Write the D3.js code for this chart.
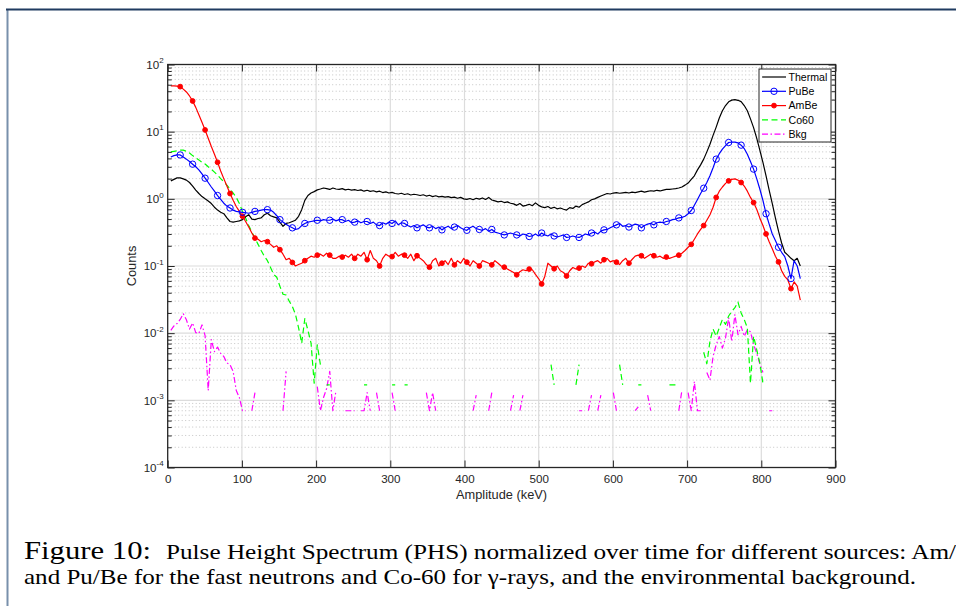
<!DOCTYPE html>
<html>
<head>
<meta charset="utf-8">
<script src="https://cdn.jsdelivr.net/npm/d3@7"></script>
<style>
    body { margin: 0; background: #fff; }
    svg { display: block; }
</style>
</head>
<body>
<div id="chart"></div>
<script>
// energy channels, 4.2 keV wide
const amplitude = d3.range(1, 204).map(i => +(i * 4.2).toFixed(1));

const thermal = [
    1.85, 1.95, 2.05, 2.05, 1.98, 1.9, 1.75, 1.55, 1.35, 1.2,
    1.08, 1.0, 0.93, 0.85, 0.75, 0.68, 0.63, 0.6, 0.52, 0.46,
    0.45, 0.46, 0.47, 0.49, 0.54, 0.58, 0.5, 0.49, 0.51, 0.52,
    0.58, 0.61, 0.56, 0.54, 0.52, 0.45, 0.39, 0.43, 0.44, 0.46,
    0.48, 0.55, 0.69, 0.95, 1.12, 1.22, 1.28, 1.36, 1.4, 1.45,
    1.42, 1.38, 1.45, 1.4, 1.38, 1.42, 1.36, 1.39, 1.35, 1.37,
    1.33, 1.36, 1.3, 1.34, 1.29, 1.32, 1.27, 1.3, 1.24, 1.27,
    1.22, 1.25, 1.2, 1.18, 1.21, 1.16, 1.19, 1.14, 1.17, 1.15,
    1.12, 1.15, 1.1, 1.13, 1.08, 1.11, 1.07, 1.09, 1.06, 1.08,
    1.04, 1.06, 1.02, 1.05, 1.0, 0.98, 1.01, 0.97, 1.02, 0.99,
    1.03, 0.98, 1.05, 0.96, 0.93, 0.9, 0.92, 0.88, 0.9, 0.86,
    0.84, 0.8, 0.85, 0.78, 0.8, 0.83, 0.79, 0.87, 0.8, 0.76,
    0.74, 0.77, 0.72, 0.75, 0.71, 0.73, 0.7, 0.68, 0.74, 0.72,
    0.78, 0.75, 0.82, 0.86, 0.9, 0.97, 1.0, 1.05, 1.1, 1.15,
    1.2, 1.18, 1.22, 1.24, 1.21, 1.23, 1.25, 1.22, 1.26, 1.24,
    1.27, 1.3, 1.26, 1.29, 1.32, 1.3, 1.34, 1.31, 1.35, 1.38,
    1.38, 1.4, 1.42, 1.45, 1.5, 1.6, 1.72, 1.95, 2.2, 2.7,
    3.2, 3.9, 5.0, 6.5, 8.8, 11.7, 16.0, 20.5, 24.5, 27.8,
    29.5, 30.0, 29.3, 28.0, 24.5, 20.5, 15.5, 11.5, 8.0, 5.3,
    3.5, 2.2, 1.35, 0.85, 0.52, 0.33, 0.22, 0.16, 0.145, 0.13,
    0.12, 0.13, 0.1
];

const puBe = [
    4.2, 4.4, 4.5, 4.5, 4.2, 3.9, 3.6, 3.28, 3.0, 2.7,
    2.35, 2.03, 1.75, 1.5, 1.3, 1.12, 0.98, 0.86, 0.78, 0.73,
    0.68, 0.65, 0.64, 0.63, 0.62, 0.61, 0.63, 0.65, 0.66, 0.68,
    0.69, 0.69, 0.68, 0.63, 0.56, 0.49, 0.45, 0.42, 0.39, 0.37,
    0.35, 0.36, 0.4, 0.43, 0.45, 0.46, 0.47, 0.48, 0.47, 0.49,
    0.48, 0.48, 0.5, 0.47, 0.49, 0.49, 0.46, 0.48, 0.44, 0.45,
    0.47, 0.44, 0.46, 0.46, 0.43, 0.45, 0.41, 0.40, 0.44, 0.42,
    0.45, 0.43, 0.47, 0.41, 0.44, 0.43, 0.4, 0.38, 0.4, 0.37,
    0.39, 0.41, 0.38, 0.37, 0.39, 0.36, 0.38, 0.345, 0.37, 0.39,
    0.36, 0.38, 0.4, 0.37, 0.35, 0.34, 0.37, 0.39, 0.36, 0.35,
    0.34, 0.36, 0.33, 0.35, 0.32, 0.31, 0.3, 0.29, 0.3, 0.31,
    0.3, 0.29, 0.28, 0.3, 0.29, 0.275, 0.28, 0.3, 0.28, 0.31,
    0.29, 0.28, 0.3, 0.28, 0.27, 0.28, 0.29, 0.266, 0.27, 0.28,
    0.27, 0.266, 0.28, 0.3, 0.29, 0.31, 0.32, 0.3, 0.33, 0.345,
    0.35, 0.37, 0.39, 0.41, 0.43, 0.39, 0.4, 0.38, 0.4, 0.42,
    0.41, 0.37, 0.4, 0.42, 0.43, 0.41, 0.44, 0.45, 0.44, 0.46,
    0.47, 0.49, 0.5, 0.52, 0.53, 0.55, 0.6, 0.67, 0.8, 0.98,
    1.2, 1.44, 1.75, 2.2, 2.9, 3.9, 4.7, 5.5, 6.2, 6.9,
    7.0, 7.0, 6.8, 6.3, 5.6, 4.6, 3.6, 2.77, 2.0, 1.4,
    0.95, 0.6, 0.42, 0.3, 0.24, 0.19, 0.16, 0.138, 0.1, 0.065,
    0.12, 0.1, 0.065
];

const amBe = [
    48, 48, 47.5, 46.8, 43, 39, 34, 28.6, 23, 17.8,
    13.8, 10.6, 8.0, 6.0, 4.6, 3.5, 2.6, 2.0, 1.55, 1.2,
    0.95, 0.77, 0.65, 0.55, 0.46, 0.38, 0.31, 0.26, 0.25, 0.23,
    0.24, 0.23, 0.21, 0.19, 0.2, 0.175, 0.15, 0.124, 0.13, 0.113,
    0.1, 0.105, 0.11, 0.12, 0.13, 0.14, 0.135, 0.145, 0.15, 0.14,
    0.155, 0.145, 0.13, 0.13, 0.14, 0.136, 0.145, 0.135, 0.15, 0.13,
    0.15, 0.14, 0.16, 0.124, 0.17, 0.13, 0.12, 0.1, 0.13, 0.15,
    0.14, 0.138, 0.16, 0.14, 0.15, 0.145, 0.13, 0.15, 0.12, 0.142,
    0.13, 0.12, 0.105, 0.096, 0.12, 0.13, 0.1, 0.11, 0.12, 0.105,
    0.13, 0.104, 0.12, 0.11, 0.13, 0.114, 0.1, 0.12, 0.11, 0.1,
    0.12, 0.115, 0.11, 0.104, 0.12, 0.11, 0.1, 0.096, 0.09, 0.085,
    0.08, 0.074, 0.082, 0.088, 0.085, 0.09, 0.088, 0.075, 0.065, 0.054,
    0.07, 0.11, 0.1, 0.091, 0.1, 0.085, 0.08, 0.071, 0.085, 0.095,
    0.09, 0.093, 0.1, 0.095, 0.11, 0.108, 0.115, 0.12, 0.11, 0.124,
    0.13, 0.115, 0.12, 0.114, 0.105, 0.12, 0.13, 0.11, 0.125, 0.14,
    0.145, 0.142, 0.13, 0.14, 0.15, 0.142, 0.135, 0.14, 0.13, 0.136,
    0.13, 0.135, 0.14, 0.145, 0.155, 0.17, 0.19, 0.21, 0.25, 0.3,
    0.35, 0.4, 0.48, 0.58, 0.75, 1.05, 1.3, 1.5, 1.7, 1.85,
    1.95, 1.98, 1.9, 1.75, 1.55, 1.3, 1.05, 0.88, 0.7, 0.52,
    0.4, 0.3, 0.23, 0.18, 0.14, 0.115, 0.085, 0.07, 0.062, 0.046,
    0.058, 0.05, 0.031
];

// zero = no counts, not drawn on the log axis
const co60 = [
    5.0, 5.1, 5.2, 5.3, 5.3, 5.1, 4.8, 4.4, 4.1, 3.8,
    3.5, 3.3, 3.0, 2.75, 2.5, 2.25, 2.0, 1.8, 1.6, 1.4,
    1.22, 1.05, 0.85, 0.65, 0.52, 0.4, 0.32, 0.26, 0.21, 0.17,
    0.14, 0.12, 0.095, 0.075, 0.068, 0.05, 0.038, 0.037, 0.03, 0.025,
    0.019, 0.012, 0.0071, 0.0165, 0.011, 0.0071, 0.0018, 0.0067, 0.0034, 0,
    0.0017, 0.0017, 0, 0, 0, 0, 0, 0, 0, 0,
    0, 0, 0.0017, 0.0017, 0, 0, 0, 0, 0, 0,
    0, 0.0017, 0.0017, 0, 0, 0.0017, 0.0017, 0, 0, 0,
    0, 0, 0, 0, 0, 0, 0, 0, 0, 0,
    0, 0, 0, 0, 0, 0, 0, 0, 0, 0,
    0, 0, 0, 0, 0, 0, 0, 0, 0, 0,
    0, 0, 0, 0, 0, 0, 0, 0, 0, 0,
    0, 0, 0.0034, 0.0017, 0, 0, 0, 0, 0, 0,
    0.0017, 0.0034, 0, 0, 0, 0, 0, 0, 0, 0,
    0, 0, 0, 0, 0.0034, 0.0017, 0, 0, 0, 0,
    0.0017, 0.0017, 0, 0, 0, 0, 0, 0, 0, 0,
    0.0017, 0.0017, 0.0017, 0, 0, 0, 0, 0, 0, 0,
    0, 0.0052, 0.0035, 0.0076, 0.0115, 0.009, 0.012, 0.016, 0.0135, 0.018,
    0.021, 0.024, 0.029, 0.02, 0.016, 0.012, 0.0018, 0.009, 0.0057, 0.0036,
    0.0018, 0, 0, 0, 0, 0, 0, 0, 0, 0,
    0, 0, 0
];

const bkg = [
    0.011, 0.0128, 0.0139, 0.016, 0.0195, 0.0158, 0.0115, 0.0142, 0.0102, 0.0099,
    0.0133, 0.0092, 0.0014, 0.008, 0.0053, 0.0062, 0.005, 0.0045, 0.0036, 0.0034,
    0.0027, 0.0014, 0.0011, 0.0007, 0.0007, 0, 0.0007, 0.0013, 0, 0,
    0, 0, 0, 0, 0, 0, 0.0007, 0.0027, 0, 0,
    0, 0, 0, 0, 0, 0, 0, 0.0016, 0.0007, 0.0011,
    0.0015, 0.0027, 0.0007, 0.0014, 0, 0, 0.0007, 0.0007, 0.0007, 0.0007,
    0, 0.0007, 0.0007, 0.0013, 0.0007, 0, 0.0013, 0.0007, 0, 0,
    0, 0.0013, 0.0007, 0, 0, 0, 0, 0, 0, 0,
    0, 0, 0.0013, 0.0007, 0.0013, 0.0007, 0, 0, 0, 0,
    0, 0, 0, 0, 0, 0, 0, 0.0007, 0.0012, 0,
    0, 0, 0.0007, 0.0013, 0, 0, 0, 0, 0, 0.0007,
    0.0012, 0, 0.0007, 0.0012, 0, 0, 0, 0, 0, 0,
    0, 0, 0, 0, 0, 0, 0, 0, 0, 0,
    0, 0.0007, 0.0007, 0, 0.0007, 0.0012, 0, 0.0007, 0.0012, 0,
    0, 0, 0.0013, 0.0007, 0, 0, 0, 0, 0, 0.0007,
    0.0008, 0, 0, 0.0012, 0.0007, 0, 0, 0, 0, 0,
    0, 0, 0, 0.0007, 0.0014, 0, 0.0013, 0.0007, 0.0019, 0.0007,
    0.0007, 0, 0.0026, 0.002, 0.0045, 0.0067, 0.0089, 0.006, 0.0085, 0.017,
    0.0075, 0.0189, 0.0095, 0.0126, 0.009, 0.0112, 0.0105, 0.0068, 0.005, 0.0035,
    0.0026, 0, 0.0007, 0.0007, 0, 0, 0, 0, 0, 0,
    0, 0, 0
];

const seriesNames = ["Thermal", "PuBe", "AmBe", "Co60", "Bkg"];
const xTicks = [0, 100, 200, 300, 400, 500, 600, 700, 800, 900];
const yExponents = [-4, -3, -2, -1, 0, 1, 2];
const captionLines = [
    ["Figure 10:", "Pulse Height Spectrum (PHS) normalized over time for different sources: Am/"],
    ["", "and Pu/Be for the fast neutrons and Co-60 for \u03b3-rays, and the environmental background."]
];

class PhsChart {
    constructor(element, configs = {}) {
        let defaultConfig = {
            width: 956,
            height: 606,
            plot: { left: 167.7, right: 835.5, top: 64.5, bottom: 467.5 }
        };
        this.config = Object.assign({}, defaultConfig, configs);
        this.svg = d3.select(element).append("svg")
            .attr("width", this.config.width)
            .attr("height", this.config.height);
        this.font = "'Liberation Sans', Arial, Helvetica, sans-serif";
        this.axisColor = "#262626";
        this.draw();
    }

    generateRange() {
        let p = this.config.plot;
        this.x = d3.scaleLinear().domain([0, 900]).range([p.left, p.right]);
        this.y = d3.scaleLog().domain([1e-4, 1e2]).range([p.bottom, p.top]);
        this.minorY = [];
        yExponents.slice(0, -1).forEach(e => {
            d3.range(2, 10).forEach(k => this.minorY.push(k * Math.pow(10, e)));
        });
    }

    // page frame as in the screenshot
    drawFrame() {
        this.svg.append("line")
            .attr("x1", 7.5).attr("x2", 7.5).attr("y1", 9).attr("y2", 606)
            .attr("stroke", "#7890ab").attr("stroke-width", 2);
        this.svg.append("line")
            .attr("x1", 6).attr("x2", 956).attr("y1", 9.5).attr("y2", 9.5)
            .attr("stroke", "#1f3b60").attr("stroke-width", 2);
    }

    generateGrid() {
        let p = this.config.plot;
        let grid = this.svg.append("g").attr("class", "grid");

        grid.selectAll(".minor").data(this.minorY).enter()
            .append("line")
            .attr("x1", p.left).attr("x2", p.right)
            .attr("y1", d => this.y(d)).attr("y2", d => this.y(d))
            .attr("stroke", "#c4c4c4").attr("stroke-width", 1)
            .attr("stroke-dasharray", "1,2.5");

        grid.selectAll(".majorY").data(yExponents.slice(1, -1)).enter()
            .append("line")
            .attr("x1", p.left).attr("x2", p.right)
            .attr("y1", d => this.y(Math.pow(10, d))).attr("y2", d => this.y(Math.pow(10, d)))
            .attr("stroke", "#dcdcdc").attr("stroke-width", 1.2);

        grid.selectAll(".majorX").data(xTicks.slice(1, -1)).enter()
            .append("line")
            .attr("y1", p.top).attr("y2", p.bottom)
            .attr("x1", d => this.x(d)).attr("x2", d => this.x(d))
            .attr("stroke", "#dcdcdc").attr("stroke-width", 1.2);
    }

    drawLines() {
        let p = this.config.plot;
        this.svg.append("defs").append("clipPath")
            .attr("id", "plot-clip")
            .append("rect")
            .attr("x", p.left).attr("y", p.top)
            .attr("width", p.right - p.left).attr("height", p.bottom - p.top);

        let values = [thermal, puBe, amBe, co60, bkg];
        let styles = [
            { color: "#000000", dash: null, marker: null },
            { color: "#0000ff", dash: null, marker: "open" },
            { color: "#ff0000", dash: null, marker: "filled" },
            { color: "#00ff00", dash: "6,3.5", marker: null },
            { color: "#ff00ff", dash: "6,2.5,1.5,2.5", marker: null }
        ];
        this.styles = styles;

        let line = d3.line()
            .defined(d => d.v > 0)
            .x(d => this.x(d.x))
            .y(d => this.y(d.v));

        let chart = this.svg.append("g")
            .attr("class", "chartContainer")
            .attr("clip-path", "url(#plot-clip)");

        // draw the low-count series first so the spectra sit on top
        [4, 3, 0, 2, 1].forEach(s => {
            let data = values[s].map((v, i) => ({ x: amplitude[i], v: v, i: i + 1 }));
            let st = styles[s];
            chart.append("path")
                .attr("d", line(data))
                .attr("fill", "none")
                .attr("stroke", st.color)
                .attr("stroke-width", 1.2)
                .attr("stroke-linejoin", "round")
                .attr("stroke-dasharray", st.dash);

            if (st.marker) {
                chart.selectAll(".m" + s)
                    .data(data.filter(d => d.i % 4 === 0 && d.v > 0))
                    .enter()
                    .append("circle")
                    .attr("cx", d => this.x(d.x))
                    .attr("cy", d => this.y(d.v))
                    .attr("r", st.marker === "open" ? 3.2 : 2.4)
                    .attr("fill", st.marker === "open" ? "none" : st.color)
                    .attr("stroke", st.color)
                    .attr("stroke-width", 1);
            }
        });
    }

    generateAxisContainer() {
        let p = this.config.plot;
        let axis = this.svg.append("g").attr("class", "axis");

        let styleAxis = g => {
            g.select(".domain").remove();
            g.selectAll("line").attr("stroke", this.axisColor);
            g.selectAll("text")
                .attr("fill", this.axisColor)
                .style("font-family", this.font)
                .style("font-size", "11.6px");
        };

        axis.append("g")
            .attr("transform", "translate(0," + p.bottom + ")")
            .call(d3.axisBottom(this.x).tickValues(xTicks).tickSizeInner(-7).tickSizeOuter(0).tickPadding(7))
            .call(styleAxis);
        axis.append("g")
            .attr("transform", "translate(0," + p.top + ")")
            .call(d3.axisTop(this.x).tickValues(xTicks).tickSizeInner(-7).tickSizeOuter(0).tickFormat(""))
            .call(styleAxis);

        let majorY = yExponents.map(e => Math.pow(10, e));
        [["left", p.left, d3.axisLeft], ["right", p.right, d3.axisRight]].forEach(a => {
            axis.append("g")
                .attr("transform", "translate(" + a[1] + ",0)")
                .call(a[2](this.y).tickValues(majorY).tickSizeInner(-7).tickSizeOuter(0).tickFormat(""))
                .call(styleAxis);
            axis.append("g")
                .attr("transform", "translate(" + a[1] + ",0)")
                .call(a[2](this.y).tickValues(this.minorY).tickSizeInner(-4).tickSizeOuter(0).tickFormat(""))
                .call(styleAxis);
        });

        // y labels as 10 with superscript exponent
        let labels = axis.append("g")
            .style("font-family", this.font)
            .attr("fill", this.axisColor);
        yExponents.forEach(e => {
            let t = labels.append("text")
                .attr("x", p.left - 4)
                .attr("y", this.y(Math.pow(10, e)) + 4.2)
                .attr("text-anchor", "end")
                .style("font-size", "11.6px");
            t.append("tspan").text("10");
            t.append("tspan").attr("dy", -5.5).style("font-size", "8px").text(e);
        });

        // box
        axis.append("rect")
            .attr("x", p.left).attr("y", p.top)
            .attr("width", p.right - p.left).attr("height", p.bottom - p.top)
            .attr("fill", "none")
            .attr("stroke", this.axisColor)
            .attr("stroke-width", 1.3);

        axis.append("text")
            .attr("x", (p.left + p.right) / 2)
            .attr("y", 499)
            .attr("text-anchor", "middle")
            .attr("fill", this.axisColor)
            .style("font-family", this.font)
            .style("font-size", "12.8px")
            .text("Amplitude (keV)");

        axis.append("text")
            .attr("transform", "translate(135.5," + (p.top + p.bottom) / 2 + ") rotate(-90)")
            .attr("text-anchor", "middle")
            .attr("fill", this.axisColor)
            .style("font-family", this.font)
            .style("font-size", "12.8px")
            .text("Counts");
    }

    drawLegend() {
        let box = { x: 759, y: 69, w: 72, h: 73 };
        let legend = this.svg.append("g").attr("class", "legend");
        legend.append("rect")
            .attr("x", box.x).attr("y", box.y)
            .attr("width", box.w).attr("height", box.h)
            .attr("fill", "#fff")
            .attr("stroke", this.axisColor)
            .attr("stroke-width", 1);

        let rows = legend.selectAll(".row")
            .data(seriesNames)
            .enter()
            .append("g")
            .attr("transform", (d, i) => "translate(" + box.x + "," + (box.y + 8 + i * 14.3) + ")");

        rows.append("line")
            .attr("x1", 3).attr("x2", 27)
            .attr("stroke", (d, i) => this.styles[i].color)
            .attr("stroke-width", 1.2)
            .attr("stroke-dasharray", (d, i) => this.styles[i].dash);

        rows.filter((d, i) => this.styles[i].marker)
            .append("circle")
            .attr("cx", 15)
            .attr("r", (d, i) => d === "PuBe" ? 3.2 : 2.4)
            .attr("fill", d => d === "PuBe" ? "none" : "#ff0000")
            .attr("stroke", d => d === "PuBe" ? "#0000ff" : "#ff0000");

        rows.append("text")
            .attr("x", 29.5)
            .attr("dy", "0.36em")
            .attr("fill", "#000")
            .style("font-family", this.font)
            .style("font-size", "10.6px")
            .text(d => d);
    }

    drawCaption() {
        let cap = this.svg.append("g")
            .style("font-family", "'Liberation Serif', 'Times New Roman', serif")
            .attr("fill", "#000");
        cap.append("text")
            .attr("x", 24).attr("y", 559)
            .attr("textLength", 127).attr("lengthAdjust", "spacingAndGlyphs")
            .style("font-size", "25px")
            .text(captionLines[0][0]);
        cap.append("text")
            .attr("x", 166).attr("y", 559)
            .attr("textLength", 790).attr("lengthAdjust", "spacingAndGlyphs")
            .style("font-size", "21.5px")
            .text(captionLines[0][1]);
        cap.append("text")
            .attr("x", 24).attr("y", 584)
            .attr("textLength", 892).attr("lengthAdjust", "spacingAndGlyphs")
            .style("font-size", "21.5px")
            .text(captionLines[1][1]);
    }

    draw() {
        this.generateRange();
        this.drawFrame();
        this.generateGrid();
        this.drawLines();
        this.generateAxisContainer();
        this.drawLegend();
        this.drawCaption();
    }
}

new PhsChart("#chart");
</script>
</body>
</html>
